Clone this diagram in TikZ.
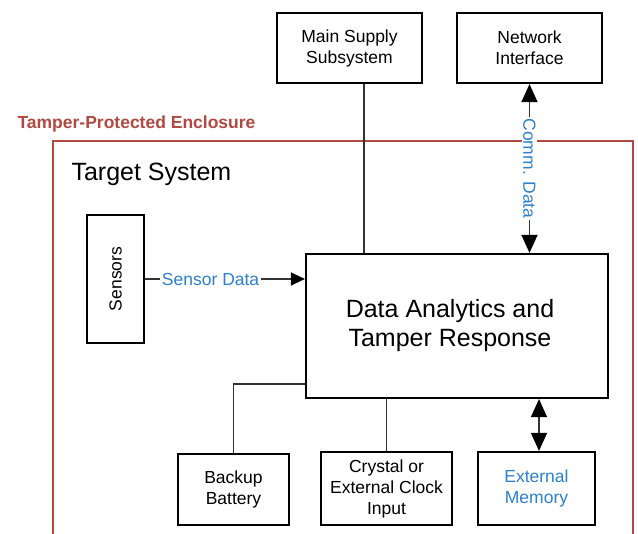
\documentclass[tikz,border=0pt]{standalone}
\usepackage{graphicx}
\usepackage{fontspec}
\setmainfont{Liberation Sans}
\usetikzlibrary{arrows.meta}
\definecolor{enclred}{RGB}{178,72,66}
\definecolor{datablue}{RGB}{45,128,208}

\begin{document}
\begin{tikzpicture}[x=1pt, y=-1pt,
    blk/.style={draw, line width=2.2pt, fill=white, align=center, inner sep=0pt,
      font=\fontsize{17.5}{21}\selectfont},
    wire/.style={line width=1.3pt, black!80},
    flow/.style={wire, -{Triangle[length=14pt,width=13pt,color=black]}},
    bus/.style={wire, {Triangle[length=18pt,width=16pt,color=black]}-{Triangle[length=18pt,width=16pt,color=black]}},
    lbl/.style={text=datablue, fill=white, inner sep=1.5pt, font=\fontsize{17.5}{21}\selectfont}]

    \useasboundingbox (0,0) rectangle (638,534);

    % --- ENCLOSURE ---
    \draw[enclred, line width=2pt] (53,534) -- (53,141) -- (633,141) -- (633,534);
    \node[anchor=west, text=enclred, font=\fontsize{17.5}{21}\selectfont\bfseries] (encl) at (14,124) {Tamper-Protected Enclosure};
    \node[anchor=west, font=\fontsize{25}{29}\selectfont] (target) at (68,174) {Target System};

    % --- OUTSIDE BLOCKS ---
    \node[blk, minimum width=145pt, minimum height=70pt] (supply) at (349.5,48) {Main Supply\\Subsystem};
    \node[blk, minimum width=145pt, minimum height=70pt] (network) at (529.5,48) {Network\\Interface};

    % --- INSIDE BLOCKS ---
    \node[blk, minimum width=57pt, minimum height=128pt] (sensors) at (115.5,279) {\rotatebox{90}{Sensors}};
    \node[blk, minimum width=302pt, minimum height=144pt, font=\fontsize{25}{29}\selectfont] (data) at (457,326)
        {Data Analytics and\hspace*{14pt}\\Tamper Response\hspace*{14pt}};
    \node[blk, minimum width=111pt, minimum height=71pt] (battery) at (233.5,489.5) {Backup\\Battery};
    \node[blk, minimum width=131pt, minimum height=73pt] (crystal) at (386.5,488.5) {Crystal or\\External Clock\\Input};
    \node[blk, minimum width=117pt, minimum height=73pt, text=datablue] (memory) at (536.5,488.5) {External\\Memory};

    % Connections
    \draw[wire] ([xshift=14.5pt]supply.south) -- ([xshift=14.5pt]supply.south |- data.north);
    \draw[bus] (network.south) -- (network.south |- data.north)
        node[midway, lbl, rotate=-90] {Comm. Data};
    \draw[flow] (sensors.east) -- (sensors.east -| data.west)
        node[pos=0.41, lbl] {Sensor Data};
    \draw[wire] (battery.north) |- ([yshift=-58pt]data.west);
    \draw[wire] (crystal.north) -- (crystal.north |- data.south);
    \draw[bus] ([xshift=2.5pt]memory.north |- data.south) -- ([xshift=2.5pt]memory.north);

\end{tikzpicture}
\end{document}
